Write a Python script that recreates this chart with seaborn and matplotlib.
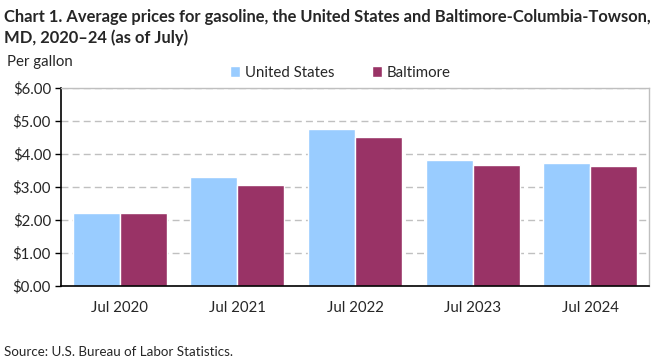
import matplotlib
matplotlib.use("Agg")
import matplotlib.pyplot as plt
import seaborn as sns
import pandas as pd

years = ["Jul 2020", "Jul 2021", "Jul 2022", "Jul 2023", "Jul 2024"]
us_values = [2.21, 3.30, 4.76, 3.82, 3.73]
baltimore_values = [2.21, 3.06, 4.52, 3.67, 3.64]
series_names = ["United States", "Baltimore"]
y_ticks = [0, 1, 2, 3, 4, 5, 6]

df = pd.DataFrame({
    "year": years * 2,
    "price": us_values + baltimore_values,
    "series": [series_names[0]] * len(years) + [series_names[1]] * len(years),
})

sns.set_theme(style="white")
plt.rcParams["font.family"] = ["Lato", "DejaVu Sans"]

fig = plt.figure(figsize=(6.61, 3.61), dpi=100)
ax = fig.add_axes([0.092, 0.2078, 0.890, 0.5485])

sns.barplot(data=df, x="year", y="price", hue="series",
            palette=["#99CCFF", "#993366"], width=0.8, saturation=1,
            ax=ax, legend=True)

ax.set_ylim(0, 6)
ax.set_yticks(y_ticks)
ax.set_yticklabels([f"${v:.2f}" for v in y_ticks], fontsize=10.8)
ax.set_xlim(-0.5, len(years) - 0.5)
ax.set_xlabel("")
ax.set_ylabel("")
ax.tick_params(axis="x", labelsize=10.8, length=0, pad=11)
ax.tick_params(axis="y", length=4, width=1, color="black", direction="out", left=True, pad=3)

ax.yaxis.grid(True, linestyle=(0, (5, 3)), color="#c0c0c0", linewidth=1)
ax.set_axisbelow(True)
for s in ["left", "bottom"]:
    ax.spines[s].set_color("black")
    ax.spines[s].set_linewidth(1.2)
for s in ["top", "right"]:
    ax.spines[s].set_color("#bfbfbf")
    ax.spines[s].set_linewidth(1.0)

leg = ax.legend(loc="center", bbox_to_anchor=(0.475, 1.078), ncol=2, frameon=False,
                fontsize=10.8, handlelength=0.7, handleheight=0.7,
                handletextpad=0.3, columnspacing=2.5)

fig.text(0.006, 0.953, "Chart 1. Average prices for gasoline, the United States and Baltimore-Columbia-Towson,",
         fontsize=11.9, fontweight="bold", va="center", ha="left")
fig.text(0.006, 0.895, "MD, 2020\u201324 (as of July)",
         fontsize=11.9, fontweight="bold", va="center", ha="left")
fig.text(0.011, 0.828, "Per gallon", fontsize=10.8, va="center", ha="left")
fig.text(0.006, 0.025, "Source: U.S. Bureau of Labor Statistics.", fontsize=9.6, va="center", ha="left")

fig.savefig("out.png", dpi=100)
